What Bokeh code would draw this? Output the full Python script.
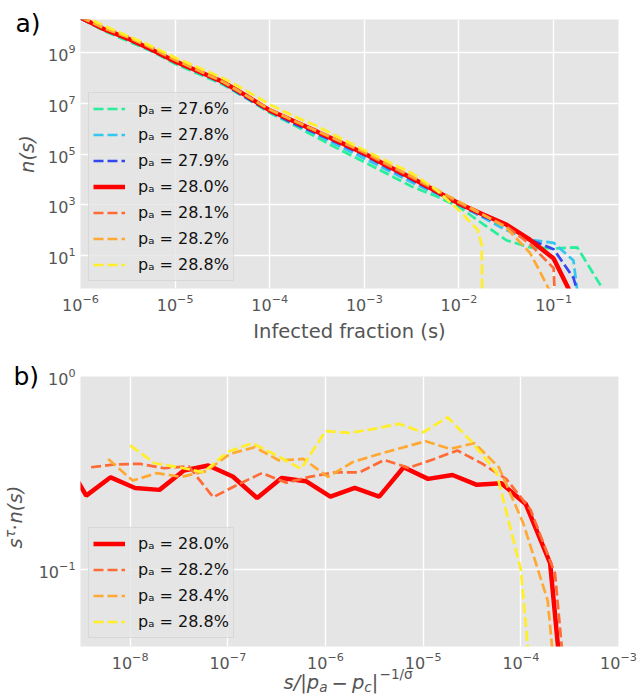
from math import pi
from bokeh.plotting import figure
from bokeh.layouts import column
from bokeh.models import FixedTicker, Label, Range1d, GridBox
from bokeh.embed import file_html
from bokeh.resources import INLINE

# ---------------- Panel a) : n(s) vs infected fraction (log10 values) ----------------
a_x_276 = [-6.0, -5.75, -5.5, -5.25, -5.0, -4.75, -4.5, -4.25, -4.0, -3.75, -3.5, -3.25, -3.0, -2.75, -2.5, -2.25, -2.0, -1.75, -1.5, -1.25, -1.0, -0.75, -0.5]
a_y_276 = [10.35, 9.85, 9.45, 9.05, 8.55, 8.15, 7.75, 7.2, 6.62, 6.15, 5.65, 5.15, 4.68, 4.2, 3.72, 3.35, 2.92, 2.25, 1.6, 1.32, 1.28, 1.32, -0.2]

a_x_278 = [-6.0, -5.75, -5.5, -5.25, -5.0, -4.75, -4.5, -4.25, -4.0, -3.75, -3.5, -3.25, -3.0, -2.75, -2.5, -2.25, -2.0, -1.75, -1.5, -1.25, -1.0, -0.79, -0.75]
a_y_278 = [10.35, 9.88, 9.5, 9.08, 8.6, 8.2, 7.8, 7.25, 6.66, 6.22, 5.75, 5.28, 4.82, 4.35, 3.88, 3.45, 3.0, 2.5, 2.0, 1.62, 1.5, 0.8, -0.4]

a_x_279 = [-6.0, -5.75, -5.5, -5.25, -5.0, -4.75, -4.5, -4.25, -4.0, -3.75, -3.5, -3.25, -3.0, -2.75, -2.5, -2.25, -2.0, -1.75, -1.5, -1.25, -1.0, -0.79, -0.75]
a_y_279 = [10.35, 9.9, 9.52, 9.1, 8.62, 8.22, 7.8, 7.22, 6.68, 6.2, 5.8, 5.38, 4.95, 4.45, 3.98, 3.5, 3.0, 2.55, 2.15, 1.62, 1.25, 0.12, -0.4]

a_x_280 = [-6.0, -5.75, -5.5, -5.25, -5.0, -4.75, -4.5, -4.25, -4.0, -3.75, -3.5, -3.25, -3.0, -2.75, -2.5, -2.25, -2.0, -1.75, -1.5, -1.25, -1.0, -0.83]
a_y_280 = [10.38, 9.92, 9.55, 9.12, 8.65, 8.25, 7.85, 7.3, 6.72, 6.3, 5.88, 5.45, 5.02, 4.52, 4.05, 3.55, 3.05, 2.62, 2.22, 1.62, 0.88, -0.4]

a_x_281 = [-6.0, -5.75, -5.5, -5.25, -5.0, -4.75, -4.5, -4.25, -4.0, -3.75, -3.5, -3.25, -3.0, -2.75, -2.5, -2.25, -2.0, -1.75, -1.5, -1.25, -1.0, -0.99]
a_y_281 = [10.38, 9.98, 9.62, 9.2, 8.72, 8.3, 7.88, 7.32, 6.75, 6.32, 5.9, 5.48, 5.05, 4.55, 4.08, 3.58, 3.08, 2.6, 2.15, 1.45, 0.5, -0.4]

a_x_282 = [-6.0, -5.75, -5.5, -5.25, -5.0, -4.75, -4.5, -4.25, -4.0, -3.75, -3.5, -3.25, -3.0, -2.75, -2.5, -2.25, -2.0, -1.75, -1.5, -1.25, -1.17, -1.04]
a_y_282 = [10.4, 9.95, 9.6, 9.18, 8.7, 8.28, 7.85, 7.3, 6.75, 6.32, 5.9, 5.5, 5.08, 4.6, 4.12, 3.62, 3.12, 2.62, 2.1, 1.1, 0.55, -0.4]

a_x_288 = [-6.0, -5.75, -5.5, -5.25, -5.0, -4.75, -4.5, -4.25, -4.0, -3.75, -3.5, -3.25, -3.0, -2.75, -2.5, -2.25, -2.0, -1.8, -1.76, -1.755]
a_y_288 = [10.5, 10.05, 9.65, 9.25, 8.8, 8.4, 8.0, 7.5, 6.95, 6.5, 6.1, 5.62, 5.15, 4.7, 4.25, 3.62, 2.78, 2.0, 1.4, -0.4]

a_labels = ["27.6", "27.8", "27.9", "28.0", "28.1", "28.2", "28.8"]
a_xticks = [1e-6, 1e-5, 1e-4, 1e-3, 1e-2, 1e-1]
a_yticks = [1e1, 1e3, 1e5, 1e7, 1e9]

# ---------------- Panel b) : s^tau n(s) vs rescaled size (log10 values) ----------------
b_x_280 = [-8.7, -8.45, -8.2, -7.95, -7.7, -7.45, -7.2, -6.95, -6.7, -6.45, -6.2, -5.95, -5.7, -5.45, -5.2, -4.95, -4.7, -4.45, -4.2, -3.95, -3.7, -3.45]
b_y_280 = [-0.4, -0.617, -0.522, -0.577, -0.587, -0.487, -0.461, -0.518, -0.629, -0.525, -0.542, -0.622, -0.577, -0.622, -0.47, -0.53, -0.51, -0.561, -0.553, -0.66, -0.967, -2.3]

b_x_282 = [-8.4, -8.15, -7.9, -7.65, -7.4, -7.15, -6.9, -6.65, -6.4, -6.15, -5.9, -5.65, -5.4, -5.15, -4.9, -4.65, -4.4, -4.15, -3.9, -3.65, -3.4]
b_y_282 = [-0.47, -0.455, -0.452, -0.475, -0.465, -0.625, -0.56, -0.5, -0.55, -0.518, -0.496, -0.496, -0.432, -0.473, -0.43, -0.383, -0.45, -0.53, -0.69, -1.02, -2.4]

b_x_284 = [-8.225, -7.975, -7.725, -7.475, -7.225, -6.975, -6.725, -6.475, -6.225, -5.975, -5.725, -5.475, -5.225, -4.975, -4.725, -4.475, -4.225, -3.975, -3.725, -3.475]
b_y_284 = [-0.427, -0.539, -0.5, -0.52, -0.49, -0.4, -0.366, -0.435, -0.427, -0.52, -0.444, -0.405, -0.37, -0.335, -0.375, -0.345, -0.47, -0.76, -1.16, -2.5]

b_x_288 = [-8.0, -7.75, -7.5, -7.25, -7.0, -6.75, -6.5, -6.25, -6.0, -5.75, -5.5, -5.25, -5.0, -4.75, -4.5, -4.25, -4.0, -3.75]
b_y_288 = [-0.357, -0.449, -0.47, -0.496, -0.39, -0.345, -0.409, -0.478, -0.283, -0.292, -0.271, -0.245, -0.289, -0.211, -0.34, -0.496, -1.0, -2.4]

b_labels = ["28.0", "28.2", "28.4", "28.8"]
b_xticks = [1e-8, 1e-7, 1e-6, 1e-5, 1e-4, 1e-3]
b_yticks = [1e-1, 1e0]

FONT = "DejaVu Sans"
C_GREEN, C_LBLUE, C_BLUE, C_RED = "#26F09A", "#33C6F0", "#3346F0", "#FF0000"
C_ORED, C_ORANGE, C_YELLOW = "#FF6A35", "#FFA832", "#FFEE28"


def pw(v):
    return [10 ** e for e in v]


def style(p):
    p.background_fill_color = "#E5E5E5"
    p.border_fill_color = "white"
    p.outline_line_color = None
    for ax in (p.xaxis, p.yaxis):
        ax.axis_line_color = None
        ax.major_tick_line_color = None
        ax.minor_tick_line_color = None
        ax.major_tick_out = 0
        ax.major_tick_in = 0
        ax.minor_tick_out = 0
        ax.minor_tick_in = 0
        ax.major_label_standoff = 5
        ax.major_label_text_font = FONT
        ax.major_label_text_font_size = "16px"
        ax.major_label_text_color = "#555555"
        ax.axis_label_text_font = FONT
        ax.axis_label_text_font_size = "19.5px"
        ax.axis_label_text_color = "#555555"
    p.grid.grid_line_color = "white"
    p.grid.grid_line_width = 1.4


def style_legend(lg, loc):
    lg.location = loc
    lg.background_fill_color = "#E5E5E5"
    lg.background_fill_alpha = 0.8
    lg.border_line_color = "#CCCCCC"
    lg.border_line_width = 1
    lg.label_text_font = FONT
    lg.label_text_font_size = "16px"
    lg.label_text_color = "#111111"
    lg.glyph_width = 32
    lg.glyph_height = 23
    lg.label_height = 23
    lg.spacing = 3
    lg.padding = 4
    lg.margin = 0
    lg.label_standoff = 13


# ---------------- figure a ----------------
pa = figure(width=639, height=350, x_axis_type="log", y_axis_type="log",
            x_range=Range1d(1e-6, 0.485), y_range=Range1d(0.5, 2e10),
            output_backend="svg", toolbar_location=None,
            min_border_left=80, min_border_right=21, min_border_top=19, min_border_bottom=62)
style(pa)
pa.xaxis.ticker = FixedTicker(ticks=a_xticks)
pa.yaxis.ticker = FixedTicker(ticks=a_yticks)
pa.xaxis.axis_label = "Infected fraction (s)"
pa.yaxis.axis_label = "n(s)"
pa.yaxis.axis_label_text_font_style = "italic"
pa.xaxis.axis_label_text_font_style = "normal"
pa.xaxis.axis_label_standoff = 6
pa.yaxis.axis_label_standoff = 6

series_a = [
    (a_x_276, a_y_276, C_GREEN, a_labels[0]),
    (a_x_278, a_y_278, C_LBLUE, a_labels[1]),
    (a_x_279, a_y_279, C_BLUE, a_labels[2]),
    (a_x_280, a_y_280, C_RED, a_labels[3]),
    (a_x_281, a_y_281, C_ORED, a_labels[4]),
    (a_x_282, a_y_282, C_ORANGE, a_labels[5]),
    (a_x_288, a_y_288, C_YELLOW, a_labels[6]),
]
for xs, ys, col, lab in series_a:
    solid = lab == "28.0"
    pa.line(pw(xs), pw(ys), line_color=col,
            line_width=4.5 if solid else 2.7,
            line_dash="solid" if solid else "10 4",
            legend_label=f"p\u2090 = {lab}%")
style_legend(pa.legend[0], (8, 7))

# ---------------- figure b ----------------
pb = figure(width=639, height=350, x_axis_type="log", y_axis_type="log",
            x_range=Range1d(3.1e-9, 1e-3), y_range=Range1d(0.04, 1.0),
            output_backend="svg", toolbar_location=None,
            min_border_left=80, min_border_right=21, min_border_top=26, min_border_bottom=54)
style(pb)
pb.xaxis.ticker = FixedTicker(ticks=b_xticks)
pb.yaxis.ticker = FixedTicker(ticks=b_yticks)

series_b = [
    (b_x_280, b_y_280, C_RED, b_labels[0]),
    (b_x_282, b_y_282, C_ORED, b_labels[1]),
    (b_x_284, b_y_284, C_ORANGE, b_labels[2]),
    (b_x_288, b_y_288, C_YELLOW, b_labels[3]),
]
for xs, ys, col, lab in series_b:
    solid = lab == "28.0"
    pb.line(pw(xs), pw(ys), line_color=col,
            line_width=4.5 if solid else 2.7,
            line_dash="solid" if solid else "10 4",
            legend_label=f"p\u2090 = {lab}%")
style_legend(pb.legend[0], (8, 8))

# ---------------- transparent overlay for panel tags and composed axis labels ----------------
ov = figure(width=639, height=700, x_range=Range1d(0, 639), y_range=Range1d(700, 0),
            output_backend="svg", toolbar_location=None,
            x_axis_location=None, y_axis_location=None,
            min_border=0, min_border_left=0, min_border_right=0,
            min_border_top=0, min_border_bottom=0)
ov.background_fill_color = None
ov.border_fill_color = None
ov.outline_line_color = None
ov.grid.visible = False


def add_text(x, y, text, size, style_="italic", angle=0.0, color="#555555"):
    ov.add_layout(Label(x=x, y=y, text=text,
                        text_font=FONT, text_font_size=f"{size}px", text_font_style=style_,
                        text_color=color, angle=angle, text_align="left",
                        text_baseline="alphabetic"))


add_text(15, 23, "a)", 25, style_="normal", color="black")
add_text(13, 376, "b)", 25, style_="normal", color="black")

# x label  s/|p_a - p_c|^{-1/sigma}
add_text(283, 682, "s/|p", 19.5)
add_text(318.8, 686.5, "a", 13.6)
add_text(331, 682, "\u2212", 19.5, style_="normal")
add_text(351.4, 682, "p", 19.5)
add_text(363.8, 686.5, "c", 13.6)
add_text(371.3, 682, "|", 19.5, style_="normal")
add_text(379, 673, "\u22121/\u03c3", 13.6, style_="normal")

# y label  s^tau . n(s)
add_text(15, 548, "s", 19.5, angle=pi / 2)
add_text(9, 537.5, "\u03c4", 13.6, angle=pi / 2)
add_text(15, 530, "\u00b7", 19.5, style_="normal", angle=pi / 2)
add_text(15, 523, "n(s)", 19.5, angle=pi / 2)

stack = column(pa, pb, spacing=0)
layout = GridBox(children=[(stack, 0, 0), (ov, 0, 0)])
open("out.html", "w").write(file_html(layout, INLINE))
